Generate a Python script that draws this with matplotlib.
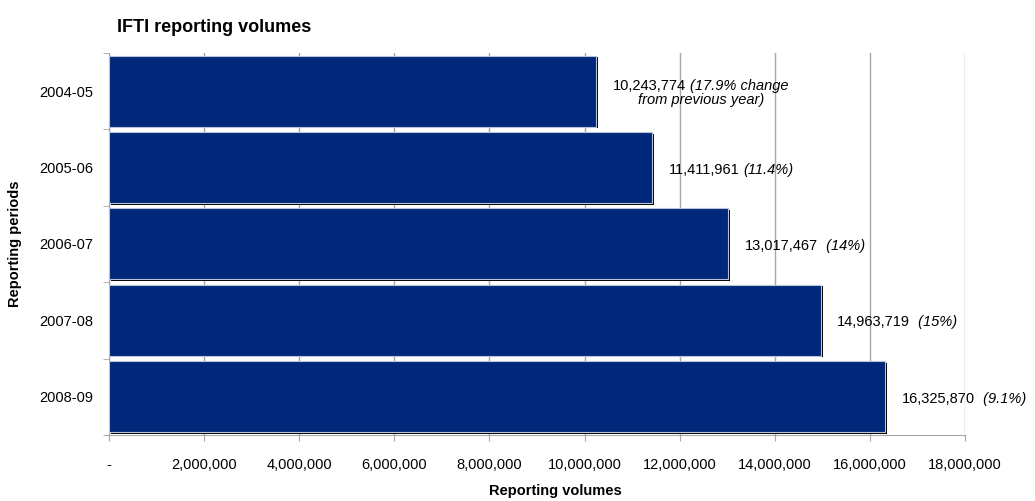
import matplotlib
matplotlib.use("Agg")
import matplotlib.pyplot as plt
import matplotlib.transforms as mtransforms
from matplotlib.offsetbox import TextArea, HPacker, VPacker, AnnotationBbox
import numpy as np

plt.rcParams['font.family'] = ['Liberation Sans', 'DejaVu Sans']

periods = ["2004-05", "2005-06", "2006-07", "2007-08", "2008-09"]
volumes = [10243774, 11411961, 13017467, 14963719, 16325870]
value_labels = ["10,243,774", "11,411,961", "13,017,467", "14,963,719", "16,325,870"]
pct_labels = ["(17.9% change", "(11.4%)", " (14%)", " (15%)", " (9.1%)"]
extra_line = ["from previous year)", "", "", "", ""]
xticks = [0, 2000000, 4000000, 6000000, 8000000, 10000000,
          12000000, 14000000, 16000000, 18000000]
xtick_labels = ["-", "2,000,000", "4,000,000", "6,000,000", "8,000,000", "10,000,000",
                "12,000,000", "14,000,000", "16,000,000", "18,000,000"]

navy = "#00287A"
grey = "#A6A6A6"
fs = 10.5

fig = plt.figure(figsize=(10.35, 5.01), dpi=100)
ax = fig.add_axes([0.1053, 0.132, 0.8271, 0.762])

y = np.arange(len(periods))
ax.grid(axis="x", color=grey, linewidth=1)
ax.set_axisbelow(True)

# dark drop shadow behind the bars
shadow = ax.transData + mtransforms.ScaledTranslation(2 / 100, -1.5 / 100, fig.dpi_scale_trans)
ax.barh(y, volumes, height=0.93, color="black", transform=shadow, zorder=2)
ax.barh(y, volumes, height=0.93, color=navy, edgecolor="#B8C2D8", linewidth=0.8, zorder=3)

for i in range(len(periods)):
    row = HPacker(children=[TextArea(value_labels[i], textprops=dict(size=fs)),
                            TextArea(pct_labels[i], textprops=dict(size=fs, style="italic"))],
                  align="baseline", pad=0, sep=3)
    if extra_line[i]:
        row = VPacker(children=[row, TextArea(extra_line[i], textprops=dict(size=fs, style="italic"))],
                      align="center", pad=0, sep=0)
    ab = AnnotationBbox(row, (volumes[i], y[i]), xybox=(12, -1.5), boxcoords="offset points",
                        box_alignment=(0, 0.5), frameon=False, pad=0, zorder=5)
    ax.add_artist(ab)

ax.set_xlim(0, 18000000)
ax.set_ylim(len(periods) - 0.5, -0.5)
ax.set_xticks(xticks)
ax.set_xticklabels(xtick_labels, fontsize=fs)
ax.set_yticks(y)
ax.set_yticklabels(periods, fontsize=fs)
ax.set_yticks(np.arange(-0.5, len(periods)), minor=True)
ax.tick_params(axis="y", which="major", length=0, pad=11)
ax.tick_params(axis="y", which="minor", length=4, color=grey, direction="out")
ax.tick_params(axis="x", length=4, color=grey, pad=13)
for s in ["top", "right"]:
    ax.spines[s].set_visible(False)
for s in ["left", "bottom"]:
    ax.spines[s].set_color(grey)

fig.text(0.113, 1 - 28 / 501, "IFTI reporting volumes", fontsize=13, fontweight="bold", va="center")
ax.set_xlabel("Reporting volumes", fontsize=fs, fontweight="bold")
ax.xaxis.set_label_coords(0.522, -0.128)
fig.text(15 / 1035, 1 - 244 / 501, "Reporting periods", fontsize=fs, fontweight="bold",
         rotation=90, va="center", ha="center")

fig.savefig("out.png", dpi=100)
